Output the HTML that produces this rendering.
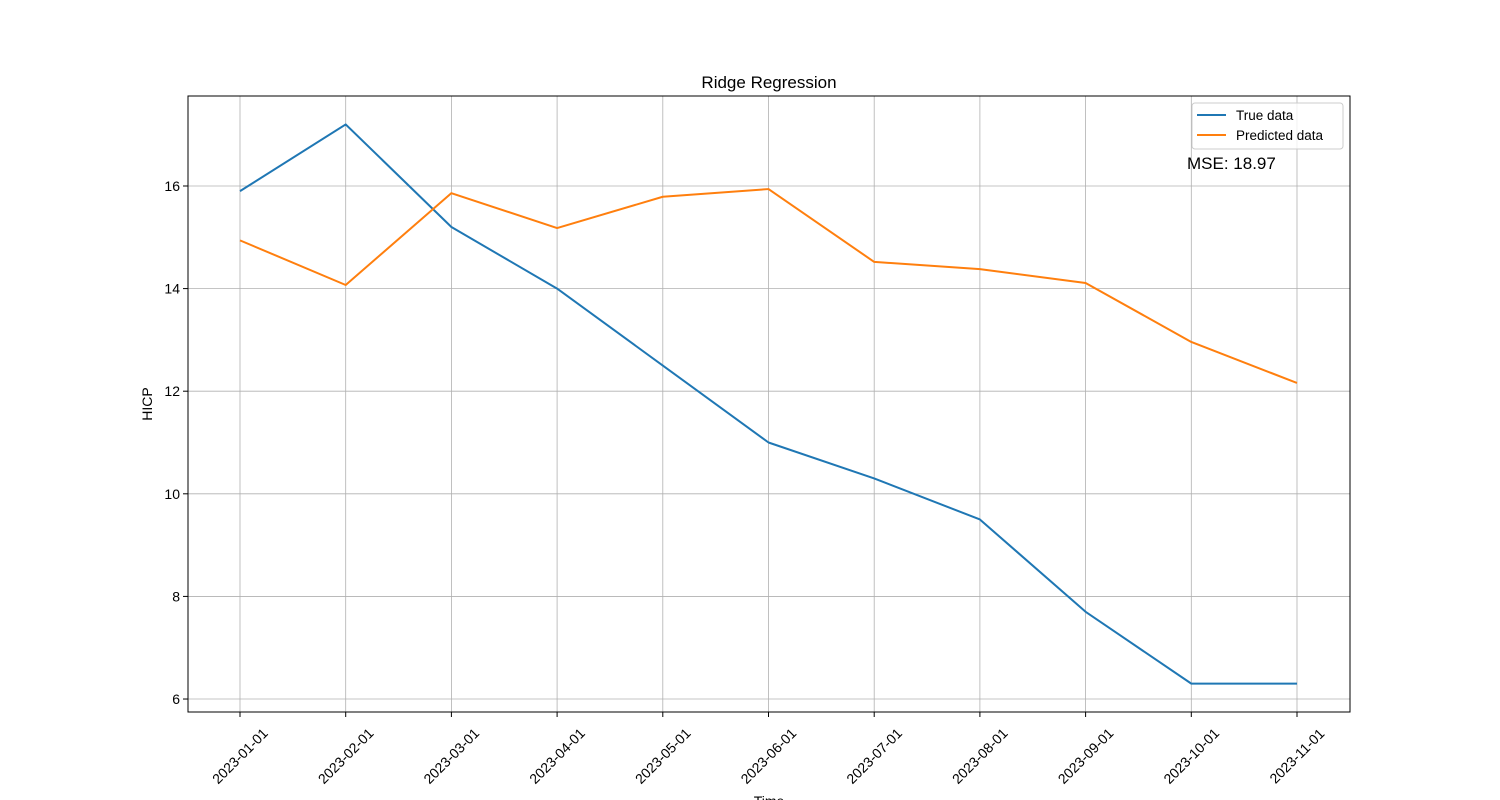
<!DOCTYPE html>
<html><head><meta charset="utf-8"><style>
body{margin:0;background:#fff}
svg{display:block;font-family:"Liberation Sans","DejaVu Sans",sans-serif}
</style></head><body>
<svg id="chart" width="1500" height="800">
<rect width="1500" height="800" fill="#fff"/>
<g id="grid"></g>
<g id="series"></g>
<rect x="188" y="96" width="1162" height="616" fill="none" stroke="#000" stroke-width="1"/>
<g id="ticks"></g>
<text x="769" y="88" text-anchor="middle" font-size="17">Ridge Regression</text>
<text x="769" y="806" text-anchor="middle" font-size="14">Time</text>
<text transform="translate(152,404) rotate(-90)" text-anchor="middle" font-size="14">HICP</text>
<g>
<rect x="1192" y="103" width="151" height="46" rx="3" fill="#fff" fill-opacity="0.8" stroke="#ccc"/>
<line x1="1197" y1="115" x2="1226" y2="115" stroke="#1f77b4" stroke-width="2"/>
<text x="1236" y="120" font-size="13.5">True data</text>
<line x1="1197" y1="135" x2="1226" y2="135" stroke="#ff7f0e" stroke-width="2"/>
<text x="1236" y="140" font-size="13.5">Predicted data</text>
</g>
<text x="1187" y="169" font-size="17">MSE: 18.97</text>
</svg>
<script>
const categories=["2023-01-01","2023-02-01","2023-03-01","2023-04-01","2023-05-01","2023-06-01","2023-07-01","2023-08-01","2023-09-01","2023-10-01","2023-11-01"];
const trueValues=[15.9,17.2,15.2,14.0,12.5,11.0,10.3,9.5,7.7,6.3,6.3];
const predictedValues=[14.94,14.07,15.86,15.18,15.79,15.94,14.52,14.38,14.11,12.96,12.16];
const yTicks=[6,8,10,12,14,16];
const NS="http://www.w3.org/2000/svg";
const x0=240,x1=1297,yMin=5.747,yMax=17.754,yTop=96,yBot=712,L=188,R=1350;
const xs=i=>x0+(x1-x0)*i/(categories.length-1);
const ys=v=>yBot-(v-yMin)/(yMax-yMin)*(yBot-yTop);
function mk(t,a,p){const e=document.createElementNS(NS,t);for(const k in a)e.setAttribute(k,a[k]);p.appendChild(e);return e;}
const grid=document.getElementById('grid'),ticks=document.getElementById('ticks'),series=document.getElementById('series');
categories.forEach((c,i)=>{
 const x=xs(i);
 const g=mk('line',{x1:x,x2:x,y1:yTop,y2:yBot,stroke:'#b0b0b0','stroke-width':0.8},grid);
 
 
 mk('line',{x1:x,x2:x,y1:yBot,y2:yBot+5,stroke:'#000'},ticks);
 const t=mk('text',{x:0,y:0,dy:'0.35em','font-size':14,'text-anchor':'middle',transform:`translate(${x},${yBot+44}) rotate(-45)`},ticks);
 t.textContent=c;
 
 
});
yTicks.forEach(v=>{
 const y=ys(v);
 const g=mk('line',{x1:L,x2:R,y1:y,y2:y,stroke:'#b0b0b0','stroke-width':0.8},grid);
 
 
 mk('line',{x1:L-5,x2:L,y1:y,y2:y,stroke:'#000'},ticks);
 const t=mk('text',{x:L-8,y:y+5,'font-size':14,'text-anchor':'end'},ticks);
 t.textContent=v;
 
 
});
function line(vals,color,name){
 const p=mk('polyline',{points:vals.map((v,i)=>xs(i)+','+ys(v)).join(' '),fill:'none',stroke:color,'stroke-width':2,'stroke-linejoin':'round'},series);
 
 
}
line(trueValues,'#1f77b4','true-data-line');
line(predictedValues,'#ff7f0e','predicted-data-line');
</script>
</body></html>
